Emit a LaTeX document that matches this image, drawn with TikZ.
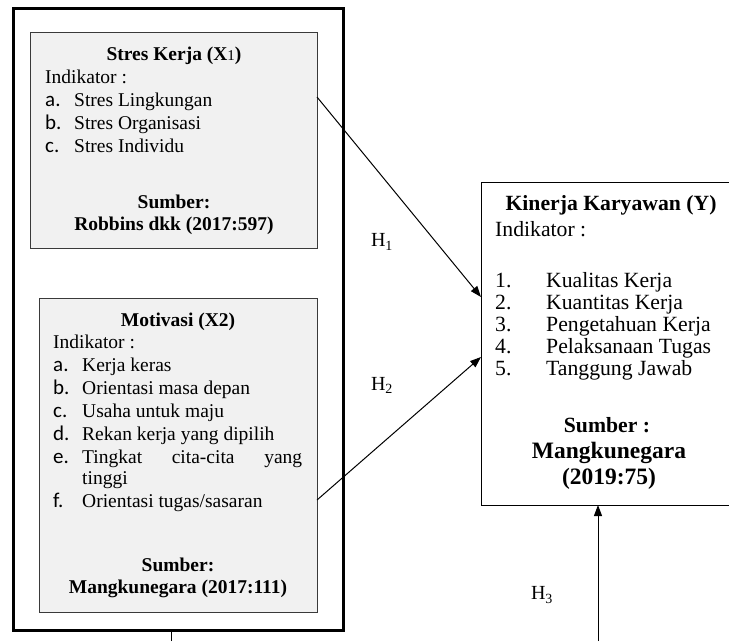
\documentclass[tikz,border=0pt]{standalone}
\usepackage{fontspec}
\setmainfont{Liberation Serif}
\newfontfamily\labelfont{Carlito}
\usetikzlibrary{positioning, calc, arrows.meta}

\definecolor{boxgray}{HTML}{F1F1F1}
\definecolor{edgegray}{HTML}{3A3A3A}

\tikzset{
  varbox/.style={draw=edgegray, fill=boxgray, line width=0.9pt, inner sep=0pt, outer sep=0pt, anchor=north west},
  resbox/.style={draw=black, fill=white, line width=0.9pt, inner sep=0pt, outer sep=0pt, anchor=north west},
  outerframe/.style={draw=black, line width=3pt, inner sep=0pt, outer sep=0pt, anchor=north west},
  txt/.style={inner sep=0pt, anchor=base west, font=\fontsize{19.5}{20}\selectfont},
  ttl/.style={inner sep=0pt, anchor=base, font=\fontsize{19.5}{20}\selectfont\bfseries},
  lbl/.style={inner sep=0pt, anchor=base west, font=\labelfont\fontsize{21}{20}\selectfont},
  rtxt/.style={inner sep=0pt, anchor=base west, font=\fontsize{21.7}{20}\selectfont},
  rttl/.style={inner sep=0pt, anchor=base, font=\fontsize{21.7}{20}\selectfont\bfseries},
  rbig/.style={inner sep=0pt, anchor=base, font=\fontsize{23.5}{24}\selectfont\bfseries},
  hyp/.style={inner sep=0pt, font=\fontsize{20}{20}\selectfont},
  link/.style={-{Triangle[length=11pt,width=8pt]}, line width=1pt},
}

\begin{document}
\begin{tikzpicture}[x=1pt, y=-1pt]

    \useasboundingbox (0,0) rectangle (729,641);

    % ---------------------------------------------------
    % Frame round the two independent variables
    % ---------------------------------------------------
    \node[outerframe, minimum width=330pt, minimum height=622pt] (outer) at (13,8) {};

    % ---------------------------------------------------
    % Stres Kerja (X1)
    % ---------------------------------------------------
    \node[varbox, minimum width=287pt, minimum height=216pt] (s1box) at (30,32) {};
    \node[ttl] (s1title) at (174,60) {Stres Kerja (X{\mdseries\fontsize{15}{15}\selectfont 1})};
    \node[txt] (s1ind) at (45,83) {Indikator :};
    \node[lbl] (s1la) at (45,106) {a.};
    \node[txt] (s1a) at (74,106) {Stres Lingkungan};
    \node[lbl] (s1lb) at (45,129) {b.};
    \node[txt] (s1b) at (74,129) {Stres Organisasi};
    \node[lbl] (s1lc) at (45,152) {c.};
    \node[txt] (s1c) at (74,152) {Stres Individu};
    \node[ttl] (s1src) at (174,208) {Sumber:};
    \node[ttl] (s1ref) at (174,230) {Robbins dkk (2017:597)};

    % ---------------------------------------------------
    % Motivasi (X2)
    % ---------------------------------------------------
    \node[varbox, minimum width=278pt, minimum height=314pt] (s2box) at (39,298) {};
    \node[ttl] (s2title) at (178,326) {Motivasi (X2)};
    \node[txt] (s2ind) at (53,348) {Indikator :};
    \node[lbl] (s2la) at (53,371) {a.};
    \node[txt] (s2a) at (82,371) {Kerja keras};
    \node[lbl] (s2lb) at (53,394) {b.};
    \node[txt] (s2b) at (82,394) {Orientasi masa depan};
    \node[lbl] (s2lc) at (53,417) {c.};
    \node[txt] (s2c) at (82,417) {Usaha untuk maju};
    \node[lbl] (s2ld) at (53,440) {d.};
    \node[txt] (s2d) at (82,440) {Rekan kerja yang dipilih};
    \node[lbl] (s2le) at (53,463) {e.};
    \node[txt] (s2e) at (82,463) {\makebox[220pt][s]{Tingkat cita-cita yang}};
    \node[txt] (s2e2) at (82,484) {tinggi};
    \node[lbl] (s2lf) at (53,507) {f.};
    \node[txt] (s2f) at (82,507) {Orientasi tugas/sasaran};
    \node[ttl] (s2src) at (178,571) {Sumber:};
    \node[ttl] (s2ref) at (178,593) {Mangkunegara (2017:111)};

    % ---------------------------------------------------
    % Kinerja Karyawan (Y)
    % ---------------------------------------------------
    \node[resbox, minimum width=275pt, minimum height=323pt] (kinerja) at (481,182) {};
    \node[rttl] (ytitle) at (611,210) {Kinerja Karyawan (Y)};
    \node[rtxt] (yind) at (495,236) {Indikator :};
    \foreach \n/\item [count=\i] in {1/Kualitas Kerja, 2/Kuantitas Kerja, 3/Pengetahuan Kerja,
                                     4/Pelaksanaan Tugas, 5/Tanggung Jawab} {
        \node[rtxt] (ynum\i) at (495, {265+22*\i}) {\n.};
        \node[rtxt] (yitem\i) at (546, {265+22*\i}) {\item};
    }
    \node[rttl] (ysrc) at (607,432) {Sumber :};
    \node[rbig] (yref) at (609,458) {Mangkunegara};
    \node[rbig] (yyear) at (609,484) {(2019:75)};

    % ---------------------------------------------------
    % Hypotheses
    % ---------------------------------------------------
    \draw[link] ($(s1box.north east)+(0,65)$) -- ($(kinerja.north west)+(0,115)$);
    \draw[link] ($(s2box.north east)+(0,202)$) -- ($(kinerja.north west)+(0,175)$);

    \coordinate (h3foot) at (598,641);
    \draw[link] (h3foot) -- (h3foot |- kinerja.south);

    \coordinate (tickfoot) at (171,641);
    \draw[line width=0.8pt] (tickfoot) -- (tickfoot |- outer.south);

    \node[hyp] (h1) at (382,242) {H\textsubscript{1}};
    \node[hyp] (h2) at (382,385) {H\textsubscript{2}};
    \node[hyp] (h3) at (542,595) {H\textsubscript{3}};

\end{tikzpicture}
\end{document}
